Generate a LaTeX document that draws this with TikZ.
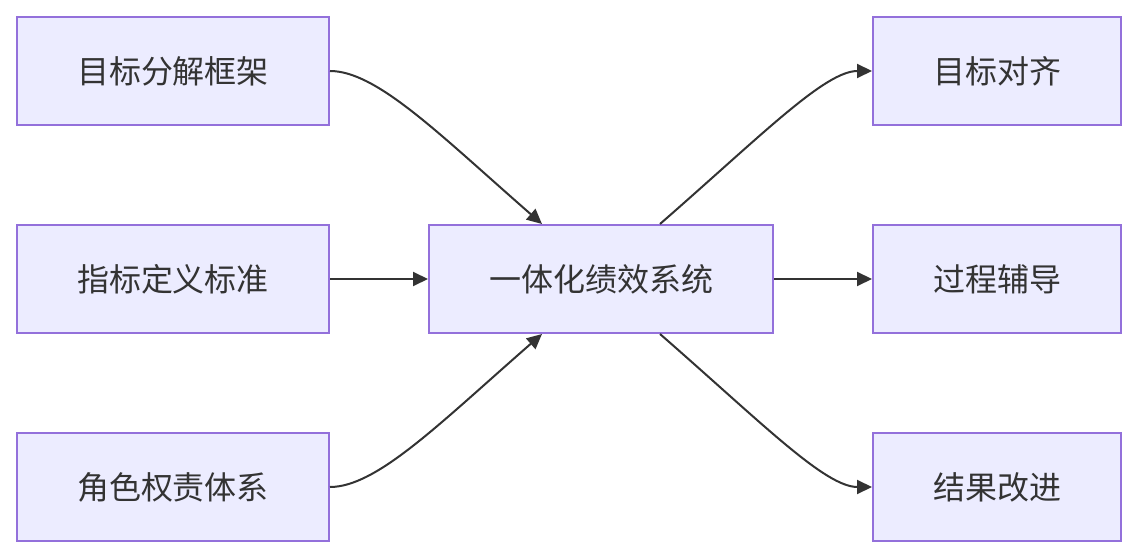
\documentclass[tikz,border=0pt]{standalone}
\usepackage{fontspec}
\setmainfont{Noto Sans CJK SC}
\usetikzlibrary{arrows.meta}
\definecolor{boxfill}{HTML}{ECECFF}
\definecolor{boxline}{HTML}{9370DB}
\definecolor{ink}{HTML}{333333}
\begin{document}
\begin{tikzpicture}[x=1pt,y=-1pt,
  box/.style={draw=boxline,fill=boxfill,line width=2pt,minimum height=108pt,inner sep=0pt,text=ink,font=\fontsize{32pt}{36pt}\selectfont,anchor=north west},
  lbox/.style={box,minimum width=312pt},
  rbox/.style={box,minimum width=248pt},
  cbox/.style={box,minimum width=344pt},
  conn/.style={draw=ink,line width=2pt,-{Triangle[length=15pt,width=14pt]}}]
\useasboundingbox (0,0) rectangle (1136,556);
\node[lbox] (a) at (16,16) {目标分解框架};
\node[lbox] (b) at (16,224) {指标定义标准};
\node[lbox] (c) at (16,432) {角色权责体系};
\node[cbox] (s) at (428,224) {一体化绩效系统};
\node[rbox] (x) at (872,16) {目标对齐};
\node[rbox] (y) at (872,224) {过程辅导};
\node[rbox] (z) at (872,432) {结果改进};
\coordinate (sn1) at ([xshift=114pt]s.north west);
\coordinate (sn2) at ([xshift=-114pt]s.north east);
\coordinate (ss1) at ([xshift=114pt]s.south west);
\coordinate (ss2) at ([xshift=-114pt]s.south east);
\draw[conn] (a.east) .. controls +(47,0) and +(-102,-89) .. (sn1);
\draw[conn] (c.east) .. controls +(47,0) and +(-102,89) .. (ss1);
\draw[conn] (b.east) -- (s.west);
\draw[conn] (sn2) .. controls +(102,-89) and +(-47,0) .. (x.west);
\draw[conn] (ss2) .. controls +(102,89) and +(-47,0) .. (z.west);
\draw[conn] (s.east) -- (y.west);
\end{tikzpicture}
\end{document}
